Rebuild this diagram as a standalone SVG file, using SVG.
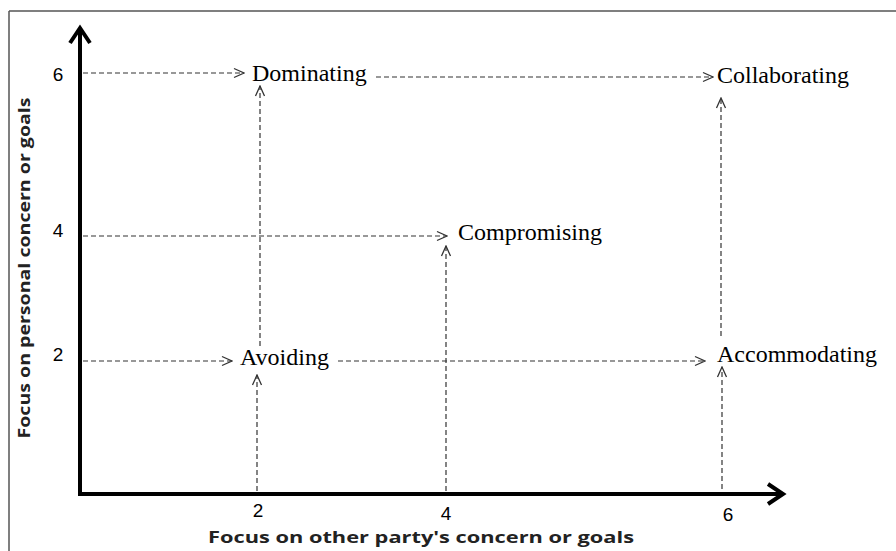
<svg xmlns="http://www.w3.org/2000/svg" width="896" height="551" viewBox="0 0 896 551">
<style>
.frame{stroke:#555;stroke-width:1.5;fill:none}
.axis{stroke:#000;stroke-width:4;fill:none}
.head{stroke:#000;stroke-width:4;fill:none;stroke-linejoin:miter;stroke-linecap:butt}
.dash{stroke:#333;stroke-width:1.2;fill:none;stroke-dasharray:5,3;marker-end:url(#chev)}
.node{font-family:"Liberation Serif","Times New Roman",serif;font-size:24px;fill:#000}
.tick{font-family:"Liberation Sans",Arial,sans-serif;font-size:19px;fill:#000}
.title{font-family:"Open Sans","Liberation Sans",Arial,sans-serif;font-size:16px;font-weight:bold;fill:#222}
</style>
<defs>
<marker id="chev" viewBox="0 0 12 12" refX="11" refY="6" markerWidth="12" markerHeight="12" markerUnits="userSpaceOnUse" orient="auto">
<path d="M1,1.5 L11,6 L1,10.5" fill="none" stroke="#333" stroke-width="1.3"/>
</marker>
</defs>
<rect width="896" height="551" fill="#fff"/>
<g id="frame">
<line class="frame" x1="9" y1="11" x2="896" y2="11"/>
<line class="frame" x1="9" y1="11" x2="9" y2="551"/>
</g>
<g id="axes">
<line class="axis" x1="80" y1="29" x2="80" y2="494"/>
<line class="axis" x1="78" y1="494" x2="781" y2="494"/>
<polyline class="head" points="70,43 80,28 90,43"/>
<polyline class="head" points="768,484 783,494 768,504"/>
<text class="tick" x="58" y="81" text-anchor="middle">6</text>
<text class="tick" x="58" y="237" text-anchor="middle">4</text>
<text class="tick" x="58" y="361" text-anchor="middle">2</text>
<text class="tick" x="258" y="517" text-anchor="middle">2</text>
<text class="tick" x="446" y="520" text-anchor="middle">4</text>
<text class="tick" x="728" y="521" text-anchor="middle">6</text>
<text class="title" x="421" y="543" text-anchor="middle" textLength="426" lengthAdjust="spacingAndGlyphs">Focus  on other party's concern or goals</text>
<text class="title" transform="translate(30,268) rotate(-90)" x="0" y="0" text-anchor="middle" textLength="341" lengthAdjust="spacingAndGlyphs">Focus  on personal concern or goals</text>
</g>
<g id="connectors">
<line class="dash" x1="83" y1="73" x2="244" y2="73"/>
<line class="dash" x1="376" y1="77" x2="713" y2="77"/>
<line class="dash" x1="83" y1="236" x2="447" y2="236"/>
<line class="dash" x1="83" y1="361" x2="232" y2="361"/>
<line class="dash" x1="338" y1="361" x2="705" y2="361"/>
<line class="dash" x1="260" y1="346" x2="260" y2="86"/>
<line class="dash" x1="257" y1="491" x2="257" y2="375"/>
<line class="dash" x1="446" y1="491" x2="446" y2="246"/>
<line class="dash" x1="721" y1="336" x2="721" y2="98"/>
<line class="dash" x1="722" y1="489" x2="722" y2="367"/>
</g>
<g id="dominating"><text class="node" x="252" y="81">Dominating</text></g>
<g id="collaborating"><text class="node" x="717" y="83">Collaborating</text></g>
<g id="compromising"><text class="node" x="458" y="240">Compromising</text></g>
<g id="avoiding"><text class="node" x="240" y="365">Avoiding</text></g>
<g id="accommodating"><text class="node" x="717" y="362">Accommodating</text></g>
</svg>
